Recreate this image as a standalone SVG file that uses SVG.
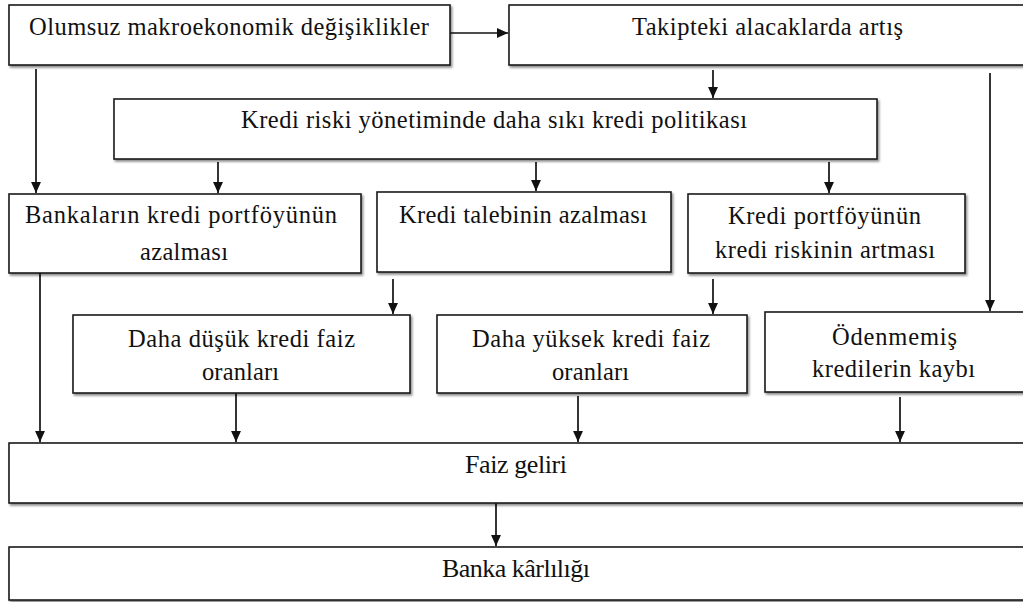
<svg xmlns="http://www.w3.org/2000/svg" width="1023" height="602" viewBox="0 0 1023 602">
<style>
.box{fill:#fff;stroke:#1a1a1a;stroke-width:1.6;filter:url(#sh)}
.t{font-family:"Liberation Serif","Times New Roman",serif;font-size:24.5px;fill:#111}
.b{font-size:26px}
.c{stroke:#111;stroke-width:1.7;fill:none;marker-end:url(#ah)}
</style>
<defs>
<filter id="sh" x="-5%" y="-10%" width="110%" height="130%">
<feDropShadow dx="1.5" dy="2" stdDeviation="1.2" flood-color="#000" flood-opacity="0.45"/>
</filter>
<marker id="ah" viewBox="0 0 10 10" refX="10" refY="5" markerWidth="11" markerHeight="11" markerUnits="userSpaceOnUse" orient="auto">
<path d="M0,0.5 L10,5 L0,9.5 Z" fill="#111"/>
</marker>
</defs>
<g id="connectors">
<line class="c" x1="450" y1="33" x2="508" y2="33"/>
<line class="c" x1="713" y1="70" x2="713" y2="98"/>
<line class="c" x1="36" y1="69" x2="36" y2="193"/>
<line class="c" x1="218" y1="162" x2="218" y2="193"/>
<line class="c" x1="536" y1="162" x2="536" y2="191"/>
<line class="c" x1="829" y1="162" x2="829" y2="193"/>
<line class="c" x1="990" y1="73" x2="990" y2="311"/>
<line class="c" x1="393" y1="279" x2="393" y2="314"/>
<line class="c" x1="713" y1="279" x2="713" y2="314"/>
<line class="c" x1="40" y1="273" x2="40" y2="442"/>
<line class="c" x1="236" y1="393" x2="236" y2="442"/>
<line class="c" x1="578" y1="396" x2="578" y2="442"/>
<line class="c" x1="900" y1="397" x2="900" y2="442"/>
<line class="c" x1="496" y1="503" x2="496" y2="546"/>
</g>
<g id="n-olumsuz">
<rect class="box" x="9" y="5" width="441" height="60"/>
<text class="t" x="29" y="35" textLength="400" lengthAdjust="spacing">Olumsuz makroekonomik değişiklikler</text>
</g>
<g id="n-takipteki">
<rect class="box" x="509" y="5" width="525" height="60"/>
<text class="t" x="632" y="35" textLength="271" lengthAdjust="spacing">Takipteki alacaklarda artış</text>
</g>
<g id="n-kredi-riski">
<rect class="box" x="114" y="99" width="763" height="60"/>
<text class="t" x="241" y="128" textLength="506" lengthAdjust="spacing">Kredi riski yönetiminde daha sıkı kredi politikası</text>
</g>
<g id="n-bankalarin">
<rect class="box" x="9" y="194" width="352" height="79"/>
<text class="t" x="25" y="223" textLength="312" lengthAdjust="spacing">Bankaların kredi portföyünün</text>
<text class="t" x="140" y="260" textLength="88" lengthAdjust="spacing">azalması</text>
</g>
<g id="n-kredi-talebi">
<rect class="box" x="377" y="192" width="294" height="80"/>
<text class="t" x="399" y="223" textLength="248" lengthAdjust="spacing">Kredi talebinin azalması</text>
</g>
<g id="n-kredi-portfoy">
<rect class="box" x="688" y="194" width="277" height="79"/>
<text class="t" x="728" y="224" textLength="193" lengthAdjust="spacing">Kredi portföyünün</text>
<text class="t" x="715" y="258" textLength="220" lengthAdjust="spacing">kredi riskinin  artması</text>
</g>
<g id="n-daha-dusuk">
<rect class="box" x="73" y="315" width="337" height="78"/>
<text class="t" x="128" y="347" textLength="227" lengthAdjust="spacing">Daha düşük kredi faiz</text>
<text class="t" x="202" y="380" textLength="77" lengthAdjust="spacing">oranları</text>
</g>
<g id="n-daha-yuksek">
<rect class="box" x="437" y="315" width="310" height="78"/>
<text class="t" x="472" y="347" textLength="238" lengthAdjust="spacing">Daha yüksek kredi faiz</text>
<text class="t" x="552" y="380" textLength="77" lengthAdjust="spacing">oranları</text>
</g>
<g id="n-odenmemis">
<rect class="box" x="765" y="312" width="270" height="80"/>
<text class="t" x="832" y="345" textLength="125" lengthAdjust="spacing">Ödenmemiş</text>
<text class="t" x="812" y="377" textLength="163" lengthAdjust="spacing">kredilerin kaybı</text>
</g>
<g id="n-faiz">
<rect class="box" x="9" y="443" width="1026" height="60"/>
<text class="t b" x="465" y="473" textLength="102" lengthAdjust="spacing">Faiz geliri</text>
</g>
<g id="n-banka">
<rect class="box" x="9" y="547" width="1026" height="53"/>
<text class="t b" x="442" y="577" textLength="148" lengthAdjust="spacing">Banka kârlılığı</text>
</g>
</svg>
